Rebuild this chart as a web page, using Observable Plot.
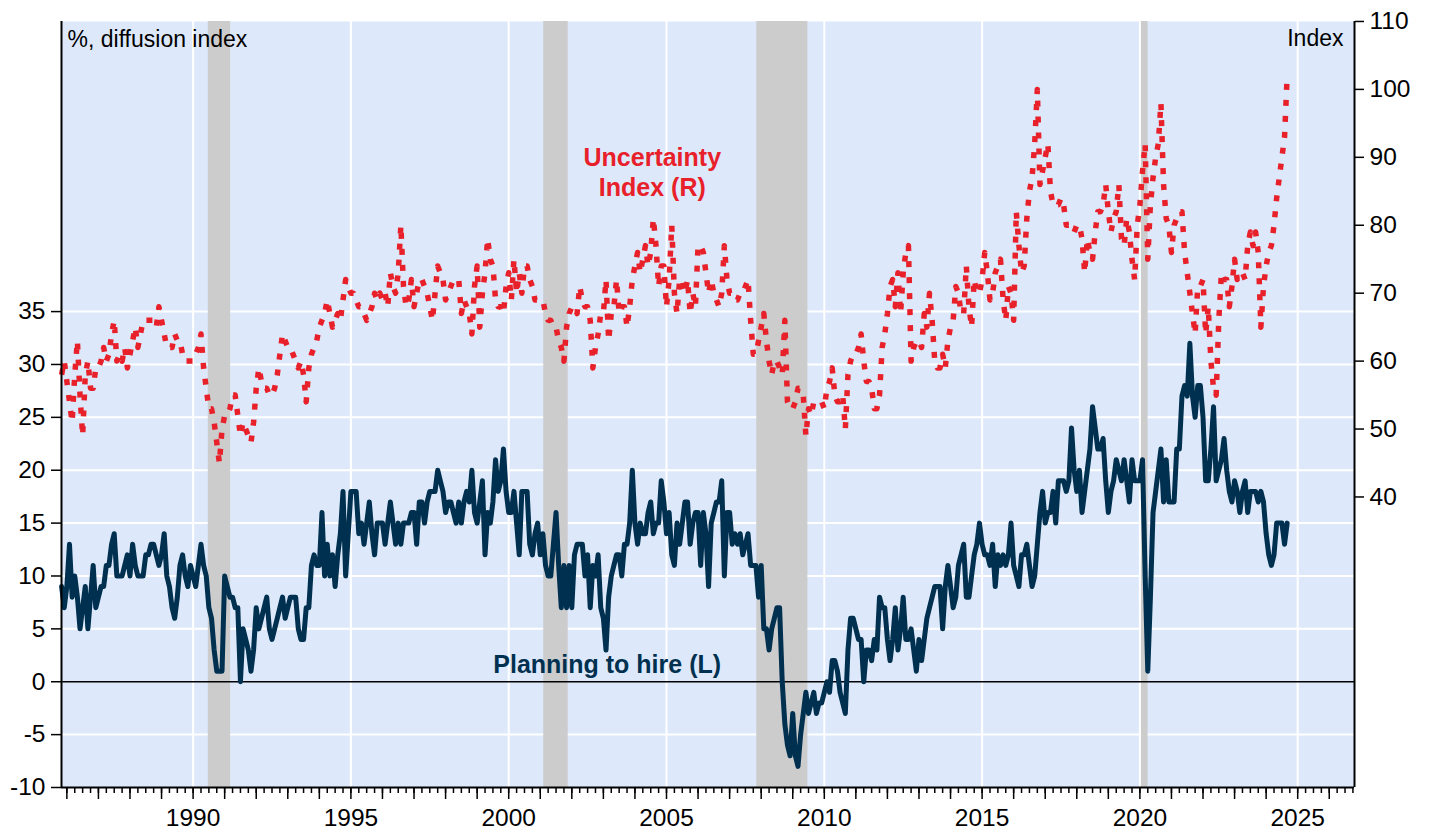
<!DOCTYPE html>
<html>
<head>
<meta charset="utf-8">
<script src="https://cdn.jsdelivr.net/npm/d3@7"></script>
<script src="https://cdn.jsdelivr.net/npm/@observablehq/plot@0.6"></script>
<style>
html,body{margin:0;padding:0;background:#fff;}
#chart svg{display:block;}
</style>
</head>
<body>
<div id="chart"></div>
<script>
// ---- DATA -----------------------------------------------------------
// Monthly observations, first one = November 1985
const startYear = 1985, startMonth = 11;

// NFIB: net % of firms planning to hire (left axis)
const hiringPlans = [
  9,7,9,13,8,10,8,5,7,9,
  5,8,11,7,8,9,9,11,11,13,
  14,10,10,10,11,12,10,13,11,10,
  10,10,12,12,13,13,12,11,12,14,
  10,9,7,6,8,11,12,10,9,11,
  10,9,11,13,11,10,7,6,3,1,
  1,1,10,9,8,8,7,7,0,5,
  4,3,1,3,7,5,6,7,8,5,
  4,5,6,7,8,6,7,8,8,8,
  5,4,4,7,7,11,12,11,11,16,
  10,13,10,12,9,12,14,18,10,14,
  18,18,18,14,15,13,15,17,14,12,
  15,15,15,13,15,17,15,13,15,13,
  15,15,15,16,16,13,17,17,15,17,
  18,18,18,20,19,18,16,17,17,16,
  15,17,15,17,18,17,20,16,15,17,
  19,12,16,15,17,21,18,19,22,18,
  16,16,18,15,12,18,18,18,13,12,
  14,15,12,14,11,10,10,13,16,11,
  7,11,7,11,7,12,13,13,13,10,
  12,7,11,10,12,7,6,3,8,10,
  11,12,12,10,13,13,15,20,15,13,
  15,14,14,16,17,14,15,15,19,17,
  14,16,12,11,15,13,15,17,17,13,
  15,16,16,11,16,14,9,15,16,17,
  17,19,10,16,16,13,14,13,14,12,
  13,14,11,11,11,8,11,5,5,3,
  5,6,7,7,0,-4,-6,-7,-3,-7,
  -8,-5,-3,-1,-3,-2,-1,-3,-2,-2,
  -1,0,-1,2,2,1,-1,-2,-3,3,
  6,6,5,4,4,0,3,3,2,4,
  3,8,7,7,4,2,4,7,3,5,
  8,4,4,5,3,1,4,2,4,6,
  7,8,9,9,9,5,9,11,9,7,
  8,11,12,13,8,8,10,12,13,15,
  13,12,12,11,13,9,12,11,12,11,
  12,15,11,10,9,12,12,13,11,9,
  10,13,16,18,15,16,16,18,15,19,
  19,19,18,19,24,20,18,20,16,18,
  20,22,26,24,22,22,23,19,16,18,
  19,21,20,19,21,19,17,21,19,19,
  19,21,10,1,8,16,18,20,22,17,
  21,17,17,17,22,22,27,28,27,32,
  27,25,28,28,25,19,19,22,26,19,
  20,21,23,20,18,17,19,18,16,18,
  19,16,18,18,18,17,18,17,14,12,
  11,12,15,15,15,13,15
];

// NFIB Uncertainty Index (right axis)
const uncertaintyIndex = [
  58,60,57,54,51,58,63,55,49,58,
  60,56,56,59,59,60,62,60,61,64,
  66,60,61,60,62,59,61,63,65,62,
  64,66,66,66,66,66,65,68,66,64,
  62,62,62,64,63,63,61,60,60,60,
  60,61,62,64,59,56,53,53,51,48,
  45,50,52,52,53,55,55,52,49,51,
  50,49,48,51,56,59,57,56,56,55,
  55,56,58,61,64,63,62,62,61,60,
  59,60,58,54,59,61,62,63,65,66,
  67,69,67,65,66,67,66,69,72,71,
  70,70,69,68,68,67,66,67,68,70,
  69,70,69,70,68,73,71,70,73,80,
  71,68,69,72,68,70,72,72,71,70,
  68,66,70,74,73,72,69,70,71,72,
  72,72,67,69,68,67,64,71,74,65,
  70,73,78,75,74,69,68,68,67,71,
  73,69,75,70,73,70,74,74,72,71,
  69,69,69,69,67,66,66,65,65,63,
  62,60,65,67,68,68,67,71,69,68,
  68,66,59,62,64,67,67,72,63,67,
  68,72,67,68,68,65,68,72,74,76,
  73,75,77,74,76,81,77,71,74,74,
  68,72,80,70,67,72,72,70,72,67,
  70,68,77,77,76,73,70,72,70,69,
  68,70,77,72,70,70,69,69,70,70,
  71,72,66,61,61,63,65,67,63,60,
  58,60,60,59,58,66,54,53,53,54,
  56,56,55,49,53,52,54,54,54,54,
  53,56,57,59,55,54,54,55,50,58,
  60,61,61,62,64,60,57,57,56,53,
  53,55,62,64,67,71,72,68,73,67,
  73,76,77,60,62,63,63,62,67,65,
  70,66,60,59,59,61,59,63,65,66,
  71,70,67,67,74,68,65,72,70,70,
  72,76,73,69,70,73,74,75,69,66,
  71,70,66,82,77,73,74,81,85,87,
  92,100,86,88,90,92,85,83,83,83,
  84,83,80,80,80,79,80,80,78,73,
  78,76,75,79,82,82,83,86,82,79,
  81,82,86,78,77,81,79,75,72,80,
  83,88,92,75,83,87,90,92,98,86,
  81,80,76,80,81,82,82,76,73,70,
  67,64,71,71,72,64,68,60,56,55,
  66,73,72,72,68,71,75,72,73,73,
  72,77,79,77,79,76,65,71,74,76,
  77,80,84,87,90,93,102
];

// US recessions (decimal years)
const recessionStart = [1990.48, 2001.11, 2007.86, 2020.05];
const recessionEnd   = [1991.19, 2001.885, 2009.48, 2020.26];

// Axis ticks
const leftTicks  = [-10, -5, 0, 5, 10, 15, 20, 25, 30, 35];
const gridTicks  = [-5, 5, 10, 15, 20, 25, 30, 35];
const rightTicks = [40, 50, 60, 70, 80, 90, 100, 110];
const labelYears = [1990, 1995, 2000, 2005, 2010, 2015, 2020, 2025];

// Text annotations
const seriesLabels = ["Uncertainty\nIndex (R)", "Planning to hire (L)"];
const seriesLabelX = [2004.55, 2003.12];
const seriesLabelY = [50.8, 2.55];

// ---- SCALES ---------------------------------------------------------
const xDomain = [1985.83, 2026.8];
const yDomain = [-10, 62.43];
// right-axis value -> left-axis units
const RA = 0.6423, RB = -8.22;
const toLeft = r => RA * r + RB;
const toRight = l => (l - RB) / RA;

const navy = "#00304f";
const red = "#e8202a";
const bg = "#dde9fb";
const band = "#cccccc";

const dateOf = i => startYear + (startMonth - 1 + i) / 12;
const hiringData = hiringPlans.map((v, i) => ({date: dateOf(i), value: v}));
const uncertaintyData = uncertaintyIndex.map((v, i) => ({date: dateOf(i), value: toLeft(v)}));
const recessionData = recessionStart.map((s, i) => ({start: s, end: recessionEnd[i]}));
const labelData = seriesLabels.map((t, i) => ({text: t, x: seriesLabelX[i], y: seriesLabelY[i]}));

const yearTicks = d3.range(1986, 2027);
const quarterTicks = d3.range(1986, 2026.8, 0.25);

const font = "'Liberation Sans', Arial, Helvetica, sans-serif";

const chart = Plot.plot({
  width: 1429,
  height: 830,
  marginLeft: 61,
  marginRight: 75,
  marginTop: 21,
  marginBottom: 43,
  x: {domain: xDomain, axis: null},
  y: {domain: yDomain, axis: null},
  style: {fontFamily: font, fontSize: "24.5px", color: "#000", background: "#fff", overflow: "visible"},
  marks: [
    Plot.frame({fill: bg, stroke: null}),
    Plot.ruleY(gridTicks, {stroke: "#fff", strokeWidth: 2}),
    Plot.ruleX(labelYears, {stroke: "#fff", strokeWidth: 2}),
    Plot.rect(recessionData, {x1: "start", x2: "end", y1: yDomain[0], y2: yDomain[1], fill: band}),
    Plot.ruleY([0], {stroke: "#000", strokeWidth: 1.5}),
    Plot.line(hiringData, {x: "date", y: "value", stroke: navy, strokeWidth: 5, strokeLinejoin: "round", strokeLinecap: "round"}),
    Plot.line(uncertaintyData, {x: "date", y: "value", stroke: red, strokeWidth: 5.5, strokeDasharray: "6,10", strokeLinecap: "butt"}),
    // axes
    Plot.axisY({anchor: "left", ticks: leftTicks, tickSize: 10, tickPadding: 6, strokeWidth: 1.5,
      tickFormat: d => String(d), fontSize: 24.5}),
    Plot.axisY({anchor: "right", ticks: rightTicks.map(toLeft), tickSize: 9, tickPadding: 6, strokeWidth: 1.5,
      tickFormat: d => String(Math.round(toRight(d))), fontSize: 24.5}),
    Plot.axisX({anchor: "bottom", ticks: quarterTicks, tickSize: 6, strokeWidth: 1.5, tickFormat: () => ""}),
    Plot.axisX({anchor: "bottom", ticks: yearTicks, tickSize: 12, strokeWidth: 1.5, tickFormat: () => ""}),
    Plot.axisX({anchor: "bottom", ticks: labelYears, tickSize: 0, tickPadding: 21, tickFormat: d => String(d), fontSize: 24.5}),
    // frame lines (left, right, bottom)
    Plot.ruleX([xDomain[0], xDomain[1]], {stroke: "#000", strokeWidth: 2}),
    Plot.ruleY([yDomain[0]], {stroke: "#000", strokeWidth: 2}),
    // unit labels
    Plot.text(["%, diffusion index"], {frameAnchor: "top-left", textAnchor: "start", lineAnchor: "top", dx: 6, dy: 9, fontSize: 23, fill: "#000"}),
    Plot.text(["Index"], {frameAnchor: "top-right", textAnchor: "end", lineAnchor: "top", dx: -11, dy: 8, fontSize: 23, fill: "#000"}),
    // series labels
    Plot.text(labelData.slice(0, 1), {x: "x", y: "y", text: "text", fill: red, fontWeight: "bold", fontSize: 25, lineAnchor: "top", lineHeight: 1.2, textAnchor: "middle"}),
    Plot.text(labelData.slice(1), {x: "x", y: "y", text: "text", fill: navy, fontWeight: "bold", fontSize: 25, lineAnchor: "top", textAnchor: "middle"})
  ]
});

document.getElementById("chart").append(chart);
</script>
</body>
</html>
